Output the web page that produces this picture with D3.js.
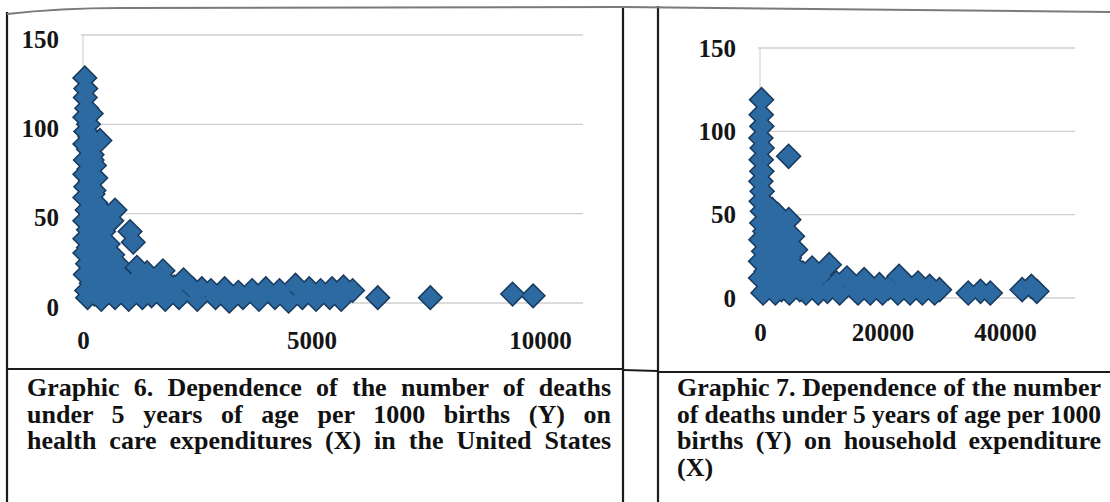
<!DOCTYPE html>
<html>
<head>
<meta charset="utf-8">
<script src="https://cdn.jsdelivr.net/npm/d3@7"></script>
<style>
  body { margin: 0; background: #fff; }
  svg { display: block; }
</style>
</head>
<body>
<svg id="viz" width="1110" height="502"></svg>
<script>
// ---- data ----
// graphic 6: health care expenditures (X) vs deaths under 5 per 1000 births (Y)
var healthX = [40, 60, 50, 80, 40, 120, 60, 150, 370, 40, 120, 200, 50, 250, 130, 40, 280, 160, 60, 240,
  40, 150, 700, 280, 480, 90, 380, 630, 200, 40, 300, 120, 450, 1030, 1100, 40, 230, 550, 380, 120,
  40, 300, 650, 470, 200, 100, 1180, 1400, 1750, 400, 750, 600, 280, 50, 850, 1200, 2200, 450, 1550, 180,
  700, 1900, 1000, 2600, 1350, 400, 80, 250, 550, 900, 1200, 1600,
  2000, 2400, 2800, 3100, 3400, 3700, 4000, 4300, 4650, 4950, 5200, 5450, 5700, 5900,
  100, 400, 700, 1000, 1300, 1500, 1800, 2100, 2500, 2900, 3200, 3500, 3850, 4200, 4500, 4800, 5100, 5400, 5650,
  6450, 7600, 9400, 9850, 180, 200, 220, 260]
var healthY = [126, 120, 115, 109, 104, 100, 96, 93, 91, 89, 86, 83, 80, 77, 75, 72, 70, 68, 65, 63,
  59, 58, 52, 56, 50, 52, 46, 46, 47, 46, 42, 41, 40, 40, 34, 36, 36, 33, 34, 31,
  28, 29, 27, 28, 25, 22, 20, 17, 18, 22, 22, 18, 18, 16, 15, 14, 13, 13, 12, 11,
  10, 10, 9, 8, 8, 7, 7, 5, 6, 5, 6, 7,
  9, 8, 7, 8, 6, 7, 8, 7, 10, 8, 7, 8, 9, 7,
  3, 2, 3, 2, 3, 4, 2, 3, 2, 3, 1, 3, 2, 3, 1, 3, 2, 3, 2,
  3, 3, 5, 4, 106, 80, 61, 55]

// graphic 7: household expenditure (X) vs deaths under 5 per 1000 births (Y)
var householdX = [250, 200, 300, 150, 350, 200, 300, 150, 350, 200, 400, 4670,
  1000, 2000, 2900, 4700, 1500, 300, 3600, 800, 2500, 5300, 150, 4200, 1500, 5800, 600, 3000, 4800, 100,
  2000, 5600, 3800, 1000, 8500, 11300, 7000, 100, 2500, 5000, 9800, 14200, 17000, 12500, 8000, 19500,
  22700, 21000, 24000, 25800, 27700, 29300, 15500, 11000, 6500, 3500, 1000,
  500, 2500, 4800, 7500, 9500, 13000, 16000, 18000, 20000, 22500, 24500, 26500, 28500,
  34000, 36000, 37600, 42800, 44300, 45200]
var householdY = [119, 110, 103, 96, 90, 83, 76, 70, 64, 58, 52, 85,
  56, 53, 50, 47, 46, 45, 42, 40, 38, 37, 35, 33, 31, 29, 28, 27, 24, 22,
  22, 19, 18, 16, 18, 20, 15, 12, 11, 11, 13, 12, 11, 9, 9, 8,
  13, 6, 8, 9, 7, 5, 5, 4, 5, 5, 5,
  3, 3, 3, 3, 3, 3, 3, 3, 3, 3, 3, 3, 3,
  3, 4, 3, 5, 7, 4]

var yTicks = [0, 50, 100, 150]
var healthXTicks = [0, 5000, 10000]
var householdXTicks = [0, 20000, 40000]

var caption6 = [
  "Graphic 6. Dependence of the number of deaths",
  "under 5 years of age per 1000 births (Y) on",
  "health care expenditures (X) in the United States"
]
var caption7 = [
  "Graphic 7. Dependence of the number",
  "of deaths under 5 years of age per 1000",
  "births (Y) on household expenditure",
  "(X)"
]

var svg = d3.select("#viz")
var fillCol = "#2c6aa1", edgeCol = "#183a5e"

function zip(xs, ys) {
  return xs.map(function (x, i) { return { x: x, y: ys[i] } })
}

function scatter(opt) {
  var x = d3.scaleLinear().domain(opt.xDomain).range(opt.xRange)
  var y = d3.scaleLinear().domain([0, 150]).range(opt.yRange)
  var g = svg.append("g")

  //gridlines
  g.selectAll("line.grid")
    .data(yTicks)
    .enter().append("line")
    .attr("x1", x(0) - 2).attr("x2", opt.gridEnd)
    .attr("y1", d => y(d)).attr("y2", d => y(d))
    .style("stroke", "#cfcfcf").style("stroke-width", 1.3)
  g.append("line")
    .attr("x1", x(0)).attr("x2", x(0))
    .attr("y1", y(150)).attr("y2", y(0))
    .style("stroke", "#d6d6d6").style("stroke-width", 1.3)

  //axes text via d3 axes, lines hidden
  var yAxis = g.append("g")
    .attr("transform", "translate(" + opt.yLabelX + "," + opt.yLabelShift + ")")
    .call(d3.axisLeft(y).tickValues(yTicks).tickSize(0).tickPadding(0))
  var xAxis = g.append("g")
    .attr("transform", "translate(0," + opt.xLabelY + ")")
    .call(d3.axisBottom(x).tickValues(opt.xTicks).tickSize(0).tickPadding(0).tickFormat(d3.format("d")))
  g.selectAll(".domain").remove()
  g.selectAll(".tick text")
    .attr("fill", "#151515")
    .style("font-family", "'Liberation Serif', 'Times New Roman', serif")
    .style("font-size", opt.fontSize + "px")
    .style("font-weight", opt.fontWeight)
  xAxis.selectAll("text").attr("dy", "0.35em")

  //diamonds: outline pass, then fill pass so the cloud gets one outer edge
  var pts = zip(opt.xs, opt.ys)
  var shape = d3.symbol().type(d3.symbolSquare).size(opt.size)
  var tf = d => "translate(" + x(d.x) + "," + y(d.y) + ") rotate(45)"
  g.selectAll("path.edge")
    .data(pts).enter().append("path")
    .attr("d", shape).attr("transform", tf)
    .style("fill", edgeCol).style("stroke", edgeCol).style("stroke-width", 3)
  g.selectAll("path.dot")
    .data(pts).enter().append("path")
    .attr("d", shape).attr("transform", tf)
    .style("fill", fillCol)
}

scatter({
  xs: healthX, ys: healthY, xDomain: [0, 10000], xRange: [83, 540], yRange: [303, 35],
  gridEnd: 583, yLabelX: 59, yLabelShift: 4, xLabelY: 340, xTicks: healthXTicks,
  fontSize: 25, fontWeight: "bold", size: 230
})
scatter({
  xs: householdX, ys: householdY, xDomain: [0, 40000], xRange: [760, 1005], yRange: [298, 48],
  gridEnd: 1075, yLabelX: 736, yLabelShift: 0, xLabelY: 332, xTicks: householdXTicks,
  fontSize: 25, fontWeight: "bold", size: 240
})

//table frame of the scanned page
var frame = [
  [7, 12, 7, 502], [623, 6, 623, 502], [658, 6, 658, 502],
  [7, 369, 623, 369], [623, 370, 658, 371], [658, 372, 1110, 372]
]
svg.selectAll("line.frame")
  .data(frame).enter().append("line")
  .attr("x1", d => d[0]).attr("y1", d => d[1]).attr("x2", d => d[2]).attr("y2", d => d[3])
  .style("stroke", "#1c1c1c").style("stroke-width", 2.2)
svg.append("path")
  .attr("d", "M7,14 Q60,8 120,8 L623,7 L1110,12")
  .style("fill", "none").style("stroke", "#7a7a7a").style("stroke-width", 2)

//captions, justified between the cell margins
function caption(lines, x0, x1, y0, size, lastJustified) {
  lines.forEach(function (line, i) {
    var t = svg.append("text")
      .attr("x", x0).attr("y", y0 + i * 26.5)
      .text(line)
      .attr("fill", "#111")
      .style("font-family", "'Liberation Serif', 'Times New Roman', serif")
      .style("font-weight", "bold")
      .style("font-size", size + "px")
    var last = i === lines.length - 1
    if (last && !lastJustified) return
    var w = t.node().getComputedTextLength()
    var gaps = (line.match(/ /g) || []).length
    if (w < x1 - x0 && gaps > 0) t.attr("word-spacing", (x1 - x0 - w) / gaps)
    else t.attr("textLength", x1 - x0).attr("lengthAdjust", "spacingAndGlyphs")
  })
}
caption(caption6, 27, 611, 396, 26, true)
caption(caption7, 677, 1101, 396, 26, false)
</script>
</body>
</html>
